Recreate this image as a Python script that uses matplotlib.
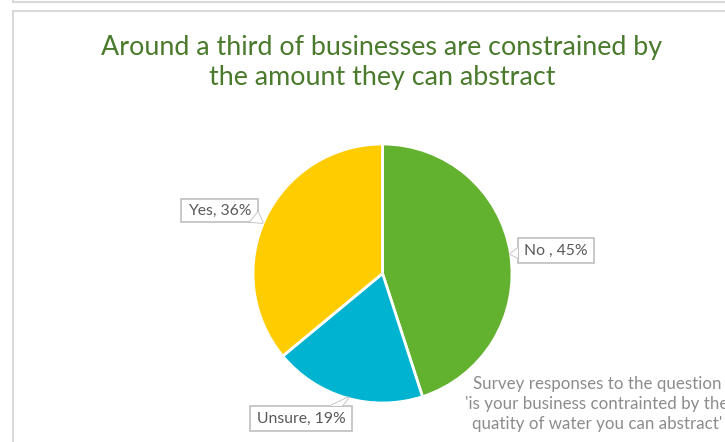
import matplotlib.pyplot as plt
from matplotlib.patches import Polygon, Rectangle

plt.rcParams['font.family'] = ['Lato', 'DejaVu Sans']

# survey answers, clockwise from 12 o'clock
labels = ['No', 'Unsure', 'Yes']
shares = [45, 19, 36]
label_text = ['No , 45%', 'Unsure, 19%', 'Yes, 36%']
colors = ['#63B22F', '#00B4D1', '#FFCC00']

title = 'Around a third of businesses are constrained by\nthe amount they can abstract'
note = ("Survey responses to the question\n"
        "'is your business contrainted by the\n"
        "quatity of water you can abstract'")

W, H = 725, 442
fig = plt.figure(figsize=(W/100, H/100), dpi=100)
ax = fig.add_axes([0, 0, 1, 1])
ax.set_xlim(0, W)
ax.set_ylim(0, H)
ax.axis('off')

# chart frame (runs off the right/bottom edge)
ax.plot([13, W + 5], [H - 2, H - 2], color='#D9D9D9', lw=1.5, clip_on=False)
ax.plot([13, 13], [H - 2, H + 5], color='#D9D9D9', lw=1.5, clip_on=False)
ax.add_patch(Rectangle((13, -10), W, H - 11 + 10, fill=False,
                       edgecolor='#D9D9D9', lw=1.5))

ax.text(382, H - 62.5, title, ha='center', va='center', fontsize=19.4,
        color='#4A7A2C', linespacing=1.3)

wedges, _ = ax.pie(shares, colors=colors, startangle=90, counterclock=False,
                   center=(382.5, H - 273.5), radius=129.5, frame=True,
                   wedgeprops=dict(edgecolor='white', linewidth=2))
ax.set_xlim(0, W)
ax.set_ylim(0, H)
ax.axis('off')

# callout boxes: (x0, y0, x1, y1) in image rows, plus pointer triangle
boxes = {
    'No': ((518, 238, 594, 263), [(518, 248), (510, 254), (518, 258)]),
    'Unsure': ((250, 406, 352, 431), [(330, 406), (349, 397), (342, 406)]),
    'Yes': ((181, 199, 258, 222), [(258, 212), (263, 223), (250, 222)]),
}
for lab, txt in zip(labels, label_text):
    (x0, y0, x1, y1), tri = boxes[lab]
    ax.add_patch(Rectangle((x0, H - y1), x1 - x0, y1 - y0, facecolor='white',
                           edgecolor='#BFBFBF', lw=1.2, zorder=3))
    ax.add_patch(Polygon([(x, H - y) for x, y in tri], closed=True,
                         facecolor='white', edgecolor='#BFBFBF', lw=1.2, zorder=3))
    # cover the box edge under the pointer
    ax.add_patch(Polygon([(x, H - y) for x, y in tri], closed=True,
                         facecolor='white', edgecolor='none', zorder=4))
    ax.text((x0 + x1) / 2, H - (y0 + y1) / 2, txt, ha='center', va='center',
            fontsize=11.3, color='#595959', zorder=5)

ax.text(597, H - 404, note, ha='center', va='center', fontsize=12.2,
        color='#8C8C8C', linespacing=1.3, clip_on=False)

fig.savefig('out.png', dpi=100)
